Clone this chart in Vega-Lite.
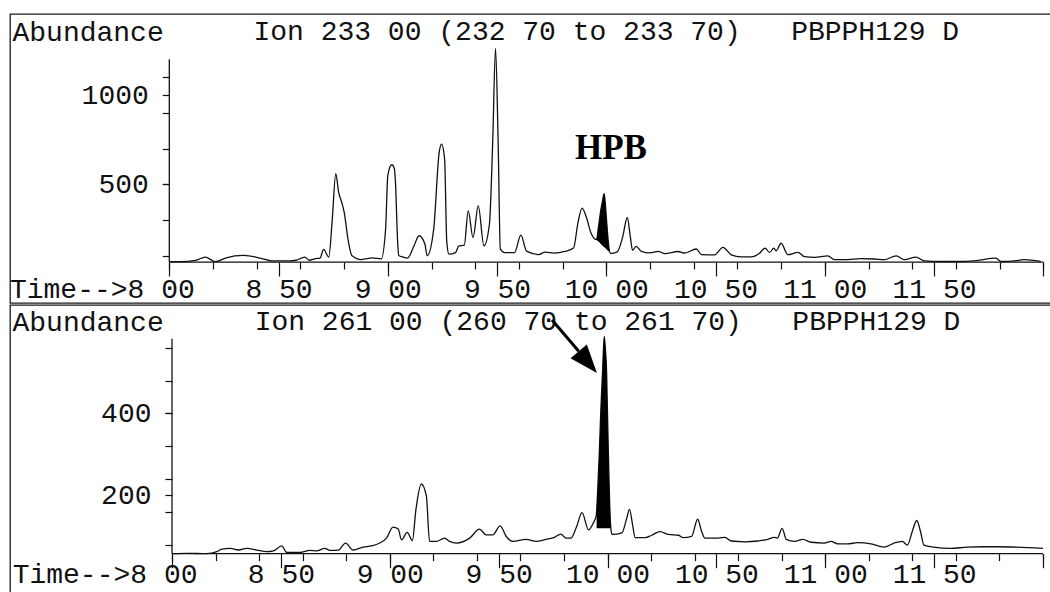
{
  "$schema": "https://vega.github.io/schema/vega-lite/v6.json",
  "padding": {"left": 8, "top": 13, "right": 0, "bottom": 0},
  "autosize": {"type": "pad"},
  "background": "white",
  "spacing": 0,
  "config": {
    "view": {"stroke": "#1a1a1a", "strokeWidth": 1.3},
    "axis": {"grid": false, "domain": false, "tickColor": "#111", "tickWidth": 1.2, "labelColor": "#111", "labelFont": "Liberation Mono", "titleFont": "Liberation Mono", "labelOverlap": false, "labelFlush": false, "labelBound": false, "labelLimit": 400, "titleColor": "#111", "titleFontWeight": "normal"}
  },
  "datasets": {
    "top": [
      {"t":8.0,"v":68},{"t":8.05,"v":68},{"t":8.12,"v":75},{"t":8.165,"v":94},{"t":8.21,"v":68},{"t":8.26,"v":90},{"t":8.34,"v":103},{"t":8.42,"v":87},{"t":8.47,"v":72},{"t":8.55,"v":72},{"t":8.58,"v":76},{"t":8.62,"v":94},{"t":8.64,"v":76},{"t":8.67,"v":85},{"t":8.69,"v":88},{"t":8.706,"v":137},{"t":8.73,"v":94},{"t":8.745,"v":290},{"t":8.762,"v":560},{"t":8.775,"v":457},{"t":8.79,"v":396},{"t":8.8,"v":346},{"t":8.82,"v":178},{"t":8.835,"v":103},{"t":8.88,"v":80},{"t":8.93,"v":89},{"t":8.97,"v":84},{"t":8.99,"v":252},{"t":9.0,"v":551},{"t":9.018,"v":610},{"t":9.03,"v":588},{"t":9.035,"v":513},{"t":9.045,"v":178},{"t":9.05,"v":103},{"t":9.07,"v":94},{"t":9.09,"v":88},{"t":9.12,"v":157},{"t":9.143,"v":213},{"t":9.17,"v":166},{"t":9.18,"v":101},{"t":9.21,"v":250},{"t":9.235,"v":678},{"t":9.246,"v":725},{"t":9.26,"v":641},{"t":9.27,"v":176},{"t":9.28,"v":110},{"t":9.31,"v":119},{"t":9.325,"v":156},{"t":9.35,"v":160},{"t":9.368,"v":352},{"t":9.39,"v":203},{"t":9.414,"v":380},{"t":9.44,"v":157},{"t":9.465,"v":277},{"t":9.48,"v":734},{"t":9.493,"v":1260},{"t":9.505,"v":734},{"t":9.515,"v":138},{"t":9.535,"v":119},{"t":9.58,"v":119},{"t":9.609,"v":216},{"t":9.635,"v":127},{"t":9.69,"v":108},{"t":9.72,"v":121},{"t":9.76,"v":116},{"t":9.81,"v":125},{"t":9.85,"v":144},{"t":9.87,"v":284},{"t":9.889,"v":368},{"t":9.91,"v":312},{"t":9.93,"v":228},{"t":9.955,"v":191},{"t":9.965,"v":270},{"t":9.975,"v":358},{"t":9.983,"v":410},{"t":9.99,"v":448},{"t":9.995,"v":400},{"t":10.0,"v":318},{"t":10.005,"v":240},{"t":10.01,"v":170},{"t":10.02,"v":114},{"t":10.05,"v":123},{"t":10.075,"v":207},{"t":10.096,"v":315},{"t":10.11,"v":207},{"t":10.12,"v":132},{"t":10.137,"v":154},{"t":10.16,"v":126},{"t":10.2,"v":117},{"t":10.237,"v":126},{"t":10.268,"v":113},{"t":10.328,"v":125},{"t":10.359,"v":116},{"t":10.412,"v":139},{"t":10.435,"v":108},{"t":10.495,"v":106},{"t":10.534,"v":148},{"t":10.572,"v":106},{"t":10.617,"v":95},{"t":10.663,"v":95},{"t":10.7,"v":114},{"t":10.727,"v":144},{"t":10.747,"v":120},{"t":10.767,"v":144},{"t":10.777,"v":129},{"t":10.8,"v":171},{"t":10.831,"v":107},{"t":10.877,"v":120},{"t":10.907,"v":96},{"t":10.953,"v":92},{"t":11.014,"v":101},{"t":11.044,"v":80},{"t":11.105,"v":80},{"t":11.166,"v":85},{"t":11.227,"v":83},{"t":11.272,"v":79},{"t":11.327,"v":101},{"t":11.364,"v":79},{"t":11.417,"v":94},{"t":11.456,"v":73},{"t":11.532,"v":69},{"t":11.608,"v":69},{"t":11.684,"v":73},{"t":11.783,"v":88},{"t":11.806,"v":69},{"t":11.868,"v":72},{"t":11.912,"v":79},{"t":11.988,"v":70}
    ],
    "topFill": [
      {"t":9.955,"v":191,"base":191},{"t":9.965,"v":270,"base":179},{"t":9.975,"v":358,"base":167},{"t":9.983,"v":410,"base":157},{"t":9.99,"v":448,"base":150},{"t":9.995,"v":400,"base":144},{"t":10.0,"v":318,"base":138},{"t":10.005,"v":240,"base":132},{"t":10.01,"v":170,"base":126},{"t":10.02,"v":114,"base":114}
    ],
    "bottom": [
      {"t":8.0,"v":58},{"t":8.069,"v":59},{"t":8.16,"v":58},{"t":8.206,"v":63},{"t":8.229,"v":69},{"t":8.267,"v":71},{"t":8.305,"v":67},{"t":8.344,"v":71},{"t":8.389,"v":67},{"t":8.435,"v":63},{"t":8.466,"v":65},{"t":8.504,"v":77},{"t":8.527,"v":61},{"t":8.588,"v":61},{"t":8.634,"v":66},{"t":8.664,"v":65},{"t":8.702,"v":71},{"t":8.725,"v":66},{"t":8.764,"v":67},{"t":8.797,"v":84},{"t":8.832,"v":67},{"t":8.878,"v":74},{"t":8.916,"v":77},{"t":8.954,"v":84},{"t":8.985,"v":96},{"t":9.015,"v":123},{"t":9.039,"v":118},{"t":9.054,"v":92},{"t":9.08,"v":110},{"t":9.104,"v":90},{"t":9.12,"v":165},{"t":9.145,"v":228},{"t":9.168,"v":199},{"t":9.183,"v":88},{"t":9.214,"v":88},{"t":9.252,"v":96},{"t":9.275,"v":88},{"t":9.306,"v":84},{"t":9.367,"v":96},{"t":9.412,"v":118},{"t":9.443,"v":104},{"t":9.473,"v":104},{"t":9.507,"v":126},{"t":9.535,"v":100},{"t":9.565,"v":88},{"t":9.626,"v":93},{"t":9.672,"v":88},{"t":9.718,"v":93},{"t":9.756,"v":98},{"t":9.786,"v":106},{"t":9.809,"v":96},{"t":9.832,"v":96},{"t":9.858,"v":124},{"t":9.883,"v":158},{"t":9.913,"v":116},{"t":9.934,"v":132},{"t":9.948,"v":150},{"t":9.955,"v":214},{"t":9.962,"v":300},{"t":9.97,"v":417},{"t":9.978,"v":510},{"t":9.985,"v":588},{"t":9.99,"v":560},{"t":9.996,"v":498},{"t":10.0,"v":400},{"t":10.005,"v":279},{"t":10.01,"v":180},{"t":10.016,"v":116},{"t":10.021,"v":105},{"t":10.066,"v":109},{"t":10.089,"v":146},{"t":10.101,"v":166},{"t":10.115,"v":129},{"t":10.127,"v":97},{"t":10.173,"v":97},{"t":10.203,"v":103},{"t":10.241,"v":112},{"t":10.28,"v":105},{"t":10.326,"v":103},{"t":10.348,"v":97},{"t":10.386,"v":100},{"t":10.414,"v":142},{"t":10.432,"v":113},{"t":10.447,"v":96},{"t":10.508,"v":96},{"t":10.539,"v":98},{"t":10.569,"v":89},{"t":10.63,"v":87},{"t":10.691,"v":89},{"t":10.737,"v":93},{"t":10.765,"v":98},{"t":10.78,"v":96},{"t":10.802,"v":120},{"t":10.821,"v":93},{"t":10.859,"v":88},{"t":10.897,"v":93},{"t":10.935,"v":86},{"t":10.996,"v":84},{"t":11.027,"v":88},{"t":11.057,"v":82},{"t":11.103,"v":82},{"t":11.149,"v":85},{"t":11.21,"v":82},{"t":11.27,"v":74},{"t":11.316,"v":84},{"t":11.354,"v":88},{"t":11.377,"v":79},{"t":11.4,"v":113},{"t":11.42,"v":139},{"t":11.438,"v":111},{"t":11.453,"v":79},{"t":11.499,"v":74},{"t":11.575,"v":71},{"t":11.652,"v":74},{"t":11.727,"v":75},{"t":11.789,"v":75},{"t":11.88,"v":74},{"t":12.0,"v":71}
    ],
    "bottomFill": [
      {"t":9.95,"v":165,"base":120},{"t":9.955,"v":214,"base":120},{"t":9.962,"v":300,"base":120},{"t":9.97,"v":417,"base":120},{"t":9.978,"v":510,"base":120},{"t":9.985,"v":588,"base":120},{"t":9.99,"v":560,"base":120},{"t":9.996,"v":498,"base":120},{"t":10.0,"v":400,"base":120},{"t":10.005,"v":279,"base":120},{"t":10.01,"v":180,"base":120},{"t":10.015,"v":122,"base":120}
    ],
    "topAxes": [{"t":8,"t2":12,"v":66,"v2":66},{"t":8,"t2":8,"v":66,"v2":1200}],
    "bottomAxes": [{"t":8,"t2":12,"v":58,"v2":58},{"t":8,"t2":8,"v":58,"v2":582}],
    "topText": [{"t":10.0,"v":1307,"label":"Ion 233 00 (232 70 to 233 70)\u00a0\u00a0\u00a0PBPPH129 D"}],
    "topCallout": [{"t":10.021,"v":640,"label":"HPB"}],
    "bottomText": [{"t":10.0,"v":604,"label":"Ion 261 00 (260 70 to 261 70)\u00a0\u00a0\u00a0PBPPH129 D"}],
    "arrowLine": [{"t":9.745,"v":628,"t2":9.868,"v2":552}],
    "arrowHead": [{"t":9.9095,"v":525}]
  },
  "vconcat": [
    {
      "width": 1042,
      "height": 289,
      "resolve": {"axis": {"x": "independent", "y": "independent"}},
      "layer": [
        {
          "data": {"name": "topAxes"},
          "mark": {"type": "rule", "color": "#111", "strokeWidth": 1.3},
          "encoding": {
            "x": {"field": "t", "type": "quantitative", "scale": {"domain": [7.2709, 12.0398], "nice": false, "zero": false},
              "axis": {"orient": "bottom", "offset": -41, "title": null, "labelOverlap": false,
                "values": [8,8.5,9,9.5,10,10.5,11,11.5,12],
                "tickSize": 14,
                "labelExpr": "datum.value < 8.05 ? 'Time-->8 00' : (datum.value > 11.9 ? '' : replace(format(datum.value, '.2f'), '.', ' '))",
                "labelAlign": {"condition": {"test": "datum.value < 8.05", "value": "right"}, "value": "center"},
                "labelOffset": {"condition": {"test": "datum.value < 8.05", "value": 25}, "value": 0},
                "labelBaseline": "alphabetic", "labelPadding": 21, "labelFontSize": 28}},
            "x2": {"field": "t2"},
            "y": {"field": "v", "type": "quantitative", "scale": {"domain": [-163, 1453], "nice": false, "zero": false},
              "axis": {"orient": "left", "offset": -159.3, "labelOverlap": false,
                "values": [500, 1000],
                "tickSize": 7,
                "labelExpr": "'' + datum.value",
                "labelFontSize": 28, "labelPadding": 14, "labelBaseline": "middle",
                "title": "Abundance", "titleAngle": 0, "titleAlign": "left", "titleBaseline": "alphabetic", "titleX": -157.3, "titleY": 26, "titleFontSize": 28}},
            "y2": {"field": "v2"}
          }
        },
        {
          "layer": [
            {
              "data": {"name": "top"},
              "mark": {"type": "line", "color": "#111", "strokeWidth": 1.3, "interpolate": "monotone"},
              "encoding": {
                "x": {"field": "t", "type": "quantitative",
                  "axis": {"orient": "bottom", "offset": -41, "title": null, "labels": false, "tickSize": 7,
                    "values": [8,8.1,8.2,8.3,8.4,8.5,8.6,8.7,8.8,8.9,9,9.1,9.2,9.3,9.4,9.5,9.6,9.7,9.8,9.9,10,10.1,10.2,10.3,10.4,10.5,10.6,10.7,10.8,10.9,11,11.1,11.2,11.3,11.4,11.5,11.6,11.7,11.8,11.9,12]}},
                "y": {"field": "v", "type": "quantitative",
                  "axis": {"orient": "left", "offset": -159.3, "title": null, "labels": false, "tickSize": 7,
                    "values": [100,200,300,400,500,600,700,800,900,1000,1100,1200]}}
              }
            },
            {
              "data": {"name": "topFill"},
              "mark": {"type": "area", "color": "#000", "opacity": 1, "interpolate": "monotone"},
              "encoding": {
                "x": {"field": "t", "type": "quantitative"},
                "y": {"field": "v", "type": "quantitative"},
                "y2": {"field": "base"}
              }
            },
            {
              "data": {"name": "topText"},
              "mark": {"type": "text", "font": "Liberation Mono", "fontSize": 28, "align": "center", "baseline": "alphabetic", "color": "#111"},
              "encoding": {
                "x": {"field": "t", "type": "quantitative"},
                "y": {"field": "v", "type": "quantitative"},
                "text": {"field": "label"}
              }
            },
            {
              "data": {"name": "topCallout"},
              "mark": {"type": "text", "font": "Liberation Serif", "fontWeight": "bold", "fontSize": 35, "align": "center", "baseline": "alphabetic", "color": "#000"},
              "encoding": {
                "x": {"field": "t", "type": "quantitative"},
                "y": {"field": "v", "type": "quantitative"},
                "text": {"field": "label"}
              }
            }
          ]
        }
      ]
    },
    {
      "width": 1042,
      "height": 290,
      "resolve": {"axis": {"x": "independent", "y": "independent"}},
      "layer": [
        {
          "data": {"name": "bottomAxes"},
          "mark": {"type": "rule", "color": "#111", "strokeWidth": 1.3},
          "encoding": {
            "x": {"field": "t", "type": "quantitative", "scale": {"domain": [7.256, 12.0413], "nice": false, "zero": false},
              "axis": {"orient": "bottom", "offset": -41.3, "title": null, "labelOverlap": false,
                "values": [8,8.5,9,9.5,10,10.5,11,11.5,12],
                "tickSize": 14,
                "labelExpr": "datum.value < 8.05 ? 'Time-->8 00' : (datum.value > 11.9 ? '' : replace(format(datum.value, '.2f'), '.', ' '))",
                "labelAlign": {"condition": {"test": "datum.value < 8.05", "value": "right"}, "value": "center"},
                "labelOffset": {"condition": {"test": "datum.value < 8.05", "value": 25}, "value": 0},
                "labelBaseline": "alphabetic", "labelPadding": 15, "labelFontSize": 28}},
            "x2": {"field": "t2"},
            "y": {"field": "v", "type": "quantitative", "scale": {"domain": [-42.7, 664.6], "nice": false, "zero": false},
              "axis": {"orient": "left", "offset": -162, "labelOverlap": false,
                "values": [200, 400],
                "tickSize": 7,
                "labelExpr": "'' + datum.value",
                "labelFontSize": 28, "labelPadding": 14, "labelBaseline": "middle",
                "title": "Abundance", "titleAngle": 0, "titleAlign": "left", "titleBaseline": "alphabetic", "titleX": -160, "titleY": 25, "titleFontSize": 28}},
            "y2": {"field": "v2"}
          }
        },
        {
          "layer": [
            {
              "data": {"name": "bottom"},
              "mark": {"type": "line", "color": "#111", "strokeWidth": 1.3, "interpolate": "monotone"},
              "encoding": {
                "x": {"field": "t", "type": "quantitative",
                  "axis": {"orient": "bottom", "offset": -41.3, "title": null, "labels": false, "tickSize": 7,
                    "values": [8,8.1,8.2,8.3,8.4,8.5,8.6,8.7,8.8,8.9,9,9.1,9.2,9.3,9.4,9.5,9.6,9.7,9.8,9.9,10,10.1,10.2,10.3,10.4,10.5,10.6,10.7,10.8,10.9,11,11.1,11.2,11.3,11.4,11.5,11.6,11.7,11.8,11.9,12]}},
                "y": {"field": "v", "type": "quantitative",
                  "axis": {"orient": "left", "offset": -162, "title": null, "labels": false, "tickSize": 7,
                    "values": [80,120,160,200,240,280,320,360,400,440,480,520,560]}}
              }
            },
            {
              "data": {"name": "bottomFill"},
              "mark": {"type": "area", "color": "#000", "opacity": 1, "interpolate": "monotone"},
              "encoding": {
                "x": {"field": "t", "type": "quantitative"},
                "y": {"field": "v", "type": "quantitative"},
                "y2": {"field": "base"}
              }
            },
            {
              "data": {"name": "bottomText"},
              "mark": {"type": "text", "font": "Liberation Mono", "fontSize": 28, "align": "center", "baseline": "alphabetic", "color": "#111"},
              "encoding": {
                "x": {"field": "t", "type": "quantitative"},
                "y": {"field": "v", "type": "quantitative"},
                "text": {"field": "label"}
              }
            },
            {
              "data": {"name": "arrowLine"},
              "mark": {"type": "rule", "color": "#000", "strokeWidth": 3},
              "encoding": {
                "x": {"field": "t", "type": "quantitative"},
                "y": {"field": "v", "type": "quantitative"},
                "x2": {"field": "t2"},
                "y2": {"field": "v2"}
              }
            },
            {
              "data": {"name": "arrowHead"},
              "mark": {"type": "point", "shape": "M1,0 L-1,-0.75 L-1,0.75 Z", "filled": true, "size": 807, "angle": 50, "color": "#000", "opacity": 1},
              "encoding": {
                "x": {"field": "t", "type": "quantitative"},
                "y": {"field": "v", "type": "quantitative"}
              }
            }
          ]
        }
      ]
    }
  ]
}
